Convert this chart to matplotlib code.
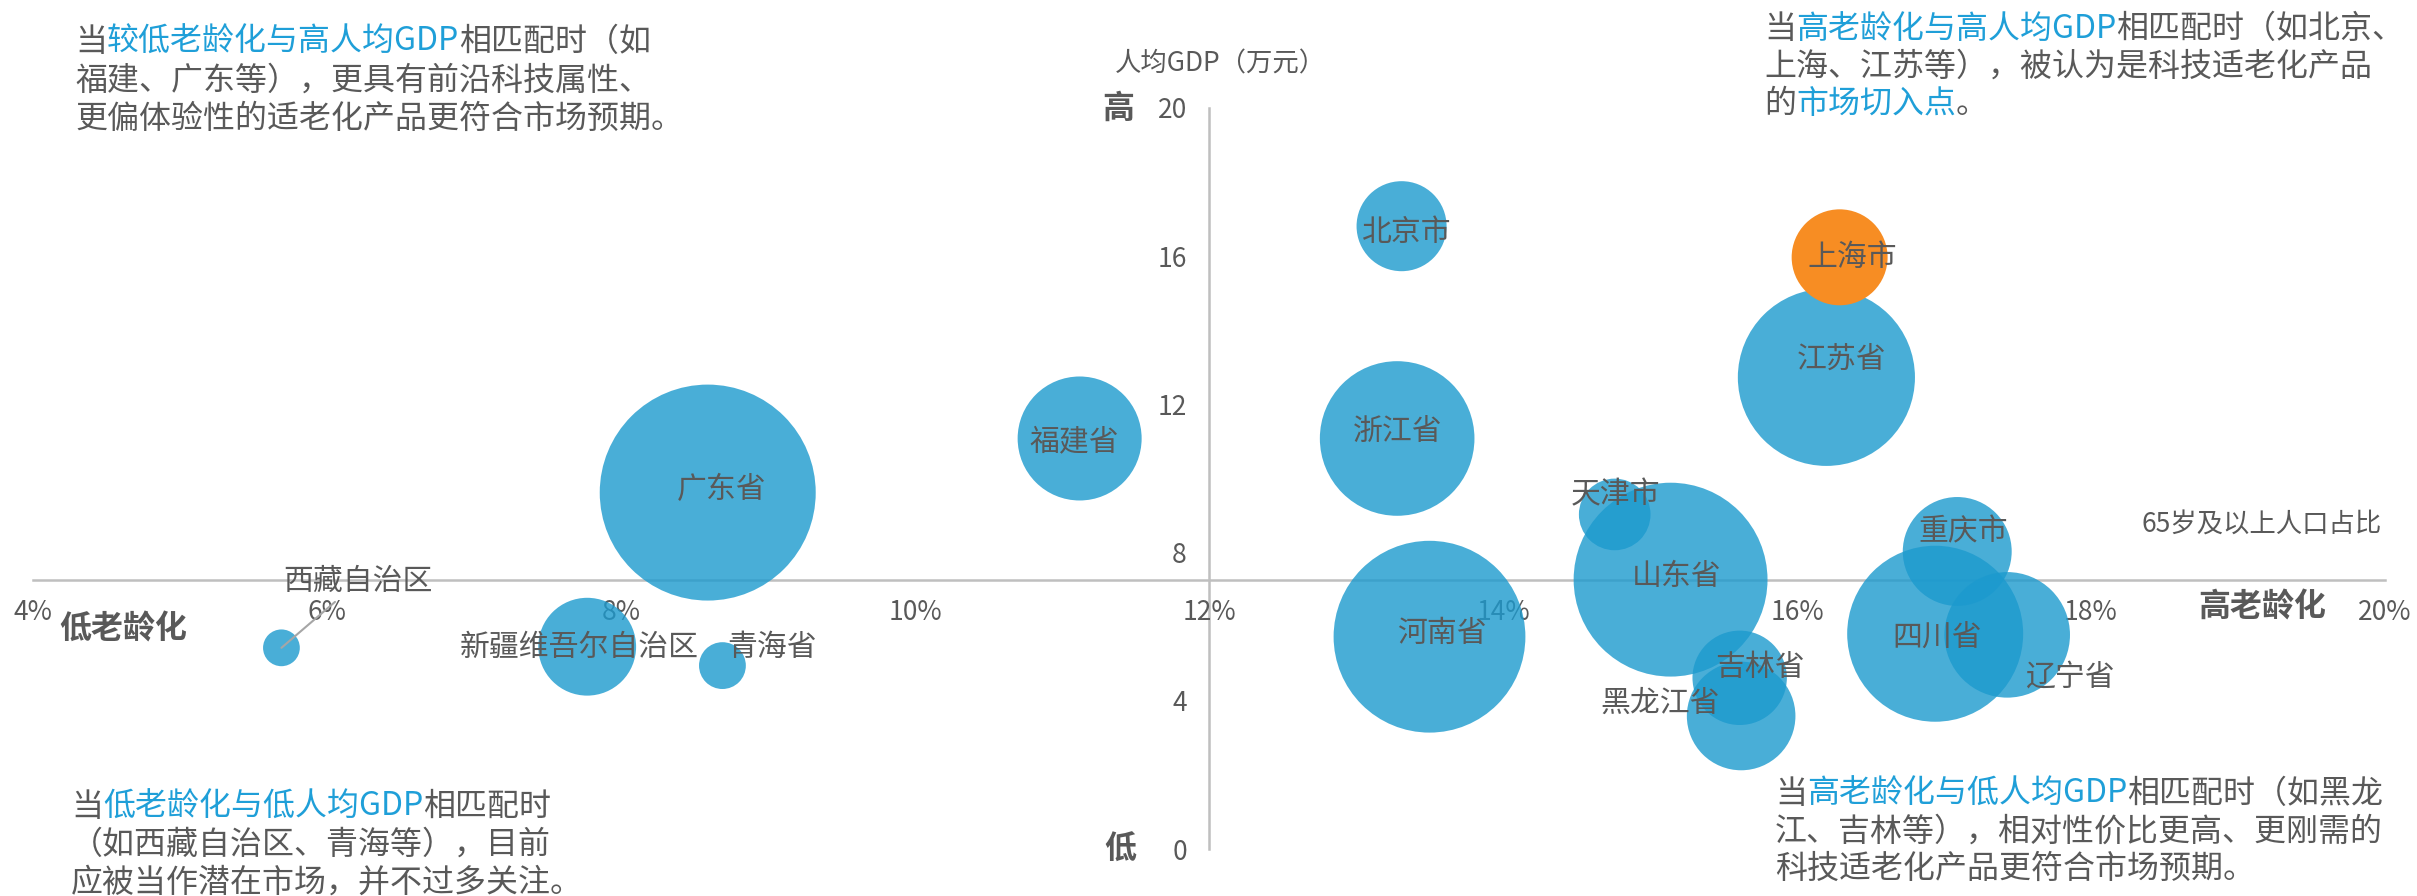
import matplotlib
matplotlib.use('Agg')
import matplotlib.pyplot as plt
from matplotlib.text import Annotation

plt.rcParams['font.family'] = ['Noto Sans CJK SC', 'DejaVu Sans']

W, H = 2417, 896
GREY = '#595959'
BLUE_TXT = '#1F9FD8'

# 各省数据：65岁及以上人口占比(%)、人均GDP(万元)、人口(万人，气泡大小)
names = ['北京市', '上海市', '江苏省', '浙江省', '福建省', '广东省', '天津市', '山东省', '重庆市',
         '四川省', '辽宁省', '河南省', '吉林省', '黑龙江省', '新疆维吾尔自治区', '青海省', '西藏自治区']
aging = [13.31, 16.29, 16.20, 13.28, 11.12, 8.59, 14.76, 15.14, 17.09,
         16.94, 17.43, 13.50, 15.61, 15.62, 7.77, 8.69, 5.69]
gdp = [16.81, 15.97, 12.73, 11.08, 11.08, 9.62, 9.03, 7.27, 8.03,
       5.81, 5.78, 5.73, 4.62, 3.59, 5.46, 4.95, 5.43]
pop = [2189, 2487, 8475, 6457, 4154, 12601, 1387, 10153, 3205,
       8367, 4259, 9937, 2407, 3185, 2585, 592, 365]

x_ticks = [4, 6, 8, 10, 12, 14, 16, 18, 20]
y_ticks = [0, 4, 8, 12, 16, 20]
x_cross = 12      # 纵轴位置
y_cross = 7.27    # 横轴位置

# 标签偏移（像素，右/下）
label_off = {
    '北京市': (5, 6), '上海市': (13, 0), '江苏省': (15, -18), '浙江省': (1, -7),
    '福建省': (-5, 3), '广东省': (14, -3), '天津市': (1, -20), '山东省': (6, -3),
    '重庆市': (6, -20), '四川省': (2, 3), '辽宁省': (63, 42), '河南省': (12, -3),
    '吉林省': (20, -10), '黑龙江省': (-81, -13), '新疆维吾尔自治区': (-8, 1),
    '青海省': (50, -18),
}

fig = plt.figure(figsize=(W / 100, H / 100), dpi=100)
ax = fig.add_axes([33 / W, (H - 849) / H, 2352 / W, 741 / H])
ax.set_xlim(4, 20)
ax.set_ylim(0, 20)

for s in ['top', 'right']:
    ax.spines[s].set_visible(False)
ax.spines['left'].set_position(('data', x_cross))
ax.spines['bottom'].set_position(('data', y_cross))
for s in ['left', 'bottom']:
    ax.spines[s].set_color('#BFBFBF')
    ax.spines[s].set_linewidth(1.8)
    ax.spines[s].set_zorder(1)

ax.set_xticks(x_ticks)
ax.set_xticklabels([f'{v}%' for v in x_ticks])
ax.set_yticks(y_ticks)
ax.set_yticklabels([str(v) for v in y_ticks])
ax.tick_params(axis='x', length=0, pad=14, labelsize=19, labelcolor=GREY)
ax.tick_params(axis='y', length=0, pad=16, labelsize=19, labelcolor=GREY)

# 气泡：面积与人口成正比，上海单独高亮
sizes = [p * 1.919 for p in pop]
for i, n in enumerate(names):
    if n == '上海市':
        ax.scatter(aging[i], gdp[i], s=sizes[i], color='#F78D23', edgecolors='none', zorder=4)
    else:
        ax.scatter(aging[i], gdp[i], s=sizes[i], color='#1C9ACE', alpha=0.8,
                   edgecolors='none', zorder=3)

for i, n in enumerate(names):
    if n == '西藏自治区':
        ax.annotate(n, xy=(aging[i], gdp[i]), xytext=(77 * 0.72, 66 * 0.72),
                    textcoords='offset points', ha='center', va='center',
                    fontsize=21.5, color=GREY, zorder=6,
                    arrowprops=dict(arrowstyle='-', color='#A6A6A6', lw=1.5,
                                    shrinkA=2, shrinkB=0))
        continue
    dx, dy = label_off[n]
    ax.annotate(n, xy=(aging[i], gdp[i]), xytext=(dx * 0.72, -dy * 0.72),
                textcoords='offset points', ha='center', va='center',
                fontsize=21.5, color=GREY, zorder=6)


def ftext(x, y, s, **kw):
    return fig.text(x / W, 1 - y / H, s, **kw)


ftext(1220, 64, '人均GDP（万元）', ha='center', va='center', fontsize=19, color=GREY)
ftext(2382, 525, '65岁及以上人口占比', ha='right', va='center', fontsize=19, color=GREY)
ftext(1118, 109, '高', ha='center', va='center', fontsize=23, fontweight='bold', color=GREY)
ftext(1120, 850, '低', ha='center', va='center', fontsize=23, fontweight='bold', color=GREY)
ftext(2262, 607, '高老龄化', ha='center', va='center', fontsize=23, fontweight='bold', color=GREY)
ftext(123, 630, '低老龄化', ha='center', va='center', fontsize=23, fontweight='bold', color=GREY)


def rich(x, y, parts, size=23):
    # 逐段拼接不同颜色的文本
    prev = ftext(x, y, parts[0][0], ha='left', va='center', fontsize=size, color=parts[0][1])
    for txt, col in parts[1:]:
        prev = fig.add_artist(Annotation(
            txt, xy=(1, 0.5), xycoords=prev, ha='left', va='center',
            fontsize=size, color=col, annotation_clip=False))
    return prev


# 左上
rich(75, 42, [('当', GREY), ('较低老龄化与高人均GDP', BLUE_TXT), ('相匹配时（如', GREY)])
rich(75, 81, [('福建、广东等），更具有前沿科技属性、', GREY)])
rich(75, 119, [('更偏体验性的适老化产品更符合市场预期。', GREY)])
# 右上
rich(1764, 29, [('当', GREY), ('高老龄化与高人均GDP', BLUE_TXT), ('相匹配时（如北京、', GREY)])
rich(1764, 67, [('上海、江苏等），被认为是科技适老化产品', GREY)])
rich(1764, 104, [('的', GREY), ('市场切入点', BLUE_TXT), ('。', GREY)])
# 左下
rich(71, 807, [('当', GREY), ('低老龄化与低人均GDP', BLUE_TXT), ('相匹配时', GREY)])
rich(71, 845, [('（如西藏自治区、青海等），目前', GREY)])
rich(71, 883, [('应被当作潜在市场，并不过多关注。', GREY)])
# 右下
rich(1775, 794, [('当', GREY), ('高老龄化与低人均GDP', BLUE_TXT), ('相匹配时（如黑龙', GREY)])
rich(1775, 832, [('江、吉林等），相对性价比更高、更刚需的', GREY)])
rich(1775, 869, [('科技适老化产品更符合市场预期。', GREY)])

fig.savefig('out.png', dpi=100)
